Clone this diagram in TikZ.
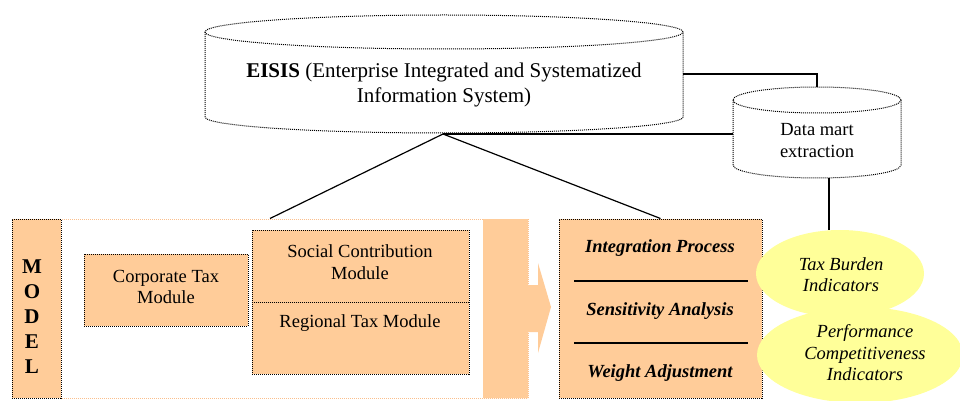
\documentclass[tikz,border=0pt]{standalone}
\usepackage{fontspec}
\setmainfont{Liberation Serif}
\usetikzlibrary{shapes.geometric}
\definecolor{peach}{HTML}{FFCC99}
\definecolor{peachline}{HTML}{FBBF8C}
\definecolor{lemon}{HTML}{FFFF99}
\begin{document}
\begin{tikzpicture}[x=1pt,y=-1pt,
  dots/.style={dash pattern=on 1pt off 1pt, line width=1pt},
  txt/.style={font=\fontsize{18.5}{21.5}\selectfont, align=center, inner sep=0pt},
  link/.style={line width=1.2pt},
  box/.style={draw, dots, fill=peach, inner sep=0pt},
  blob/.style={ellipse, fill=lemon, inner sep=0pt}]
\clip (0,0) rectangle (960,401);
\fill[white] (0,0) rectangle (960,401);

% EISIS cylinder
\draw[dots] (444,32) ellipse [x radius=239pt, y radius=17pt];
\draw[dots] (205,32) -- (205,117) arc[start angle=180,end angle=360,x radius=239pt,y radius=16pt] -- (683,32);
\node[txt, font=\fontsize{21}{25}\selectfont] (eisis) at (444,85) {\textbf{EISIS} (Enterprise Integrated and Systematized\\Information System)};

% Data mart cylinder
\draw[dots] (817,100) ellipse [x radius=84pt, y radius=13pt];
\draw[dots] (733,100) -- (733,165) arc[start angle=180,end angle=360,x radius=84pt,y radius=13pt] -- (901,100);
\node[txt, font=\fontsize{18.5}{22}\selectfont] (datamart) at (817,141) {Data mart\\extraction};

\coordinate (eisisR) at (683,74);
\coordinate (eisisB) at (443,134);
\coordinate (dmT) at (817,87);
\coordinate (dmL) at (733,134);
\coordinate (dmB) at (829,178);

% Model frame
\node[draw=peachline, dots, minimum width=516pt, minimum height=179pt, inner sep=0pt] (frame) at (270,308.5) {};
\node[box, minimum width=49pt, minimum height=179pt] (model) at (36.5,308.5) {};
\node[txt, font=\fontsize{21}{25}\selectfont\bfseries] (modeltxt) at (32,317) {M\\O\\D\\E\\L};

% big arrow
\fill[peach] (483,219) -- (528,219) -- (528,285) -- (538,285) -- (538,263) -- (551,307)
  -- (538,353) -- (538,332) -- (528,332) -- (528,398) -- (483,398) -- cycle;

% modules
\node[box, minimum width=164pt, minimum height=72pt] (corp) at (166,290) {};
\node[txt] (corptxt) at (166,287) {Corporate Tax\\Module};
\node[box, minimum width=217pt, minimum height=144pt] (soc) at (360.5,302) {};
\draw[dots] (soc.west) -- (soc.east);
\node[txt] (soctxt) at (360,262) {Social Contribution\\Module};
\node[txt] (regtxt) at (360,323) {Regional Tax Module};

% right box
\node[box, minimum width=203pt, minimum height=179pt] (rbox) at (660.5,308.5) {};
\node[txt, font=\fontsize{18.5}{21.5}\selectfont\bfseries\itshape] (integ) at (660,248) {Integration Process};
\node[txt, font=\fontsize{18.5}{21.5}\selectfont\bfseries\itshape] (sens) at (660,311) {Sensitivity Analysis};
\node[txt, font=\fontsize{18.5}{21.5}\selectfont\bfseries\itshape] (weight) at (660,373) {Weight Adjustment};
\coordinate (l1a) at (574,281); \coordinate (l1b) at (748,281);
\coordinate (l2a) at (574,343); \coordinate (l2b) at (748,343);
\draw[link] (l1a) -- (l1b);
\draw[link] (l2a) -- (l2b);

% ellipses
\node[blob, minimum width=168pt, minimum height=87pt] (taxb) at (840,273.5) {};
\node[blob, minimum width=206pt, minimum height=96pt] (perf) at (860,355) {};
\node[txt, font=\fontsize{18.5}{21.5}\selectfont\itshape] (taxbtxt) at (841,274.5) {Tax Burden\\Indicators};
\node[txt, font=\fontsize{18.5}{21.5}\selectfont\itshape] (perftxt) at (865,353) {Performance\\Competitiveness\\Indicators};

% connectors
\draw[link] (eisisR) -| (dmT);
\draw[link] (eisisB) -- (dmL);
\draw[link] (eisisB) -- (frame.north);
\draw[link] (eisisB) -- (rbox.north);
\draw[link] (dmB) -- (dmB |- taxb.north);
\end{tikzpicture}
\end{document}
